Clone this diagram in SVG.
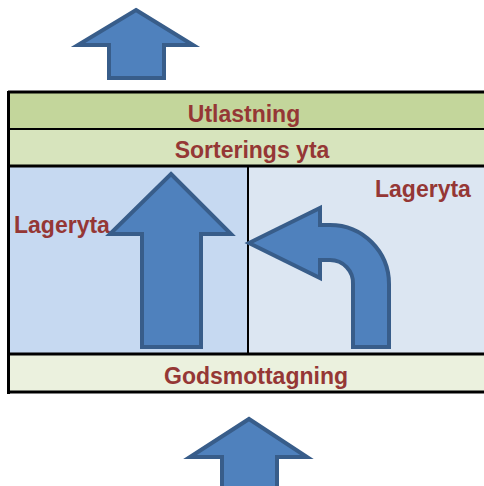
<svg xmlns="http://www.w3.org/2000/svg" width="484" height="486" viewBox="0 0 484 486">
<style>
.lbl{font-family:"Liberation Sans",Arial,sans-serif;font-weight:bold;font-size:23px;fill:#953735}
.arr{fill:#4f81bd;stroke:#385d8a;stroke-width:4;stroke-linejoin:miter}
.ln{stroke:#000;fill:none}
</style>
<rect width="484" height="486" fill="#fff"/>
<g id="utlastning">
<rect x="8" y="92" width="476" height="37" fill="#c3d69b"/>
<text class="lbl" x="244" y="122" text-anchor="middle">Utlastning</text>
</g>
<g id="sorterings">
<rect x="8" y="129" width="476" height="37" fill="#d7e4bd"/>
<text class="lbl" x="252" y="158" text-anchor="middle">Sorterings yta</text>
</g>
<g id="lageryta-left">
<rect x="8" y="166" width="240" height="188" fill="#c6d9f1"/>
<text class="lbl" x="14" y="233">Lageryta</text>
</g>
<g id="lageryta-right">
<rect x="248" y="166" width="236" height="188" fill="#dce6f2"/>
<text class="lbl" x="375" y="197">Lageryta</text>
</g>
<g id="godsmottagning">
<rect x="8" y="354" width="476" height="38" fill="#ebf1de"/>
<text class="lbl" x="256" y="384" text-anchor="middle">Godsmottagning</text>
</g>
<g id="lines">
<line class="ln" x1="8" y1="92" x2="484" y2="92" stroke-width="3"/>
<line class="ln" x1="8" y1="129" x2="484" y2="129" stroke-width="2"/>
<line class="ln" x1="8" y1="166" x2="484" y2="166" stroke-width="3"/>
<line class="ln" x1="8" y1="354" x2="484" y2="354" stroke-width="3"/>
<line class="ln" x1="7" y1="392" x2="484" y2="392" stroke-width="3"/>
<line class="ln" x1="8.5" y1="91" x2="8.5" y2="394" stroke-width="3"/>
<line class="ln" x1="248" y1="166" x2="248" y2="354" stroke-width="2"/>
</g>
<g id="connectors">
<path class="arr" d="M136,10 L193,45 L164,45 L164,78 L109,78 L109,45 L78,45 Z"/>
<path class="arr" d="M171,174 L231,234 L201,234 L201,347 L142,347 L142,234 L110,234 Z"/>
<path class="arr" d="M249,243 L320,208 L320,225 L330,225 A59,59 0 0 1 389,284 L389,347 L353,347 L353,284 A23,23 0 0 0 330,260 L320,260 L320,278 Z" stroke-linejoin="round"/>
<path class="arr" d="M249,419 L307,457 L277,457 L277,492 L222,492 L222,457 L190,457 Z"/>
</g>
</svg>
